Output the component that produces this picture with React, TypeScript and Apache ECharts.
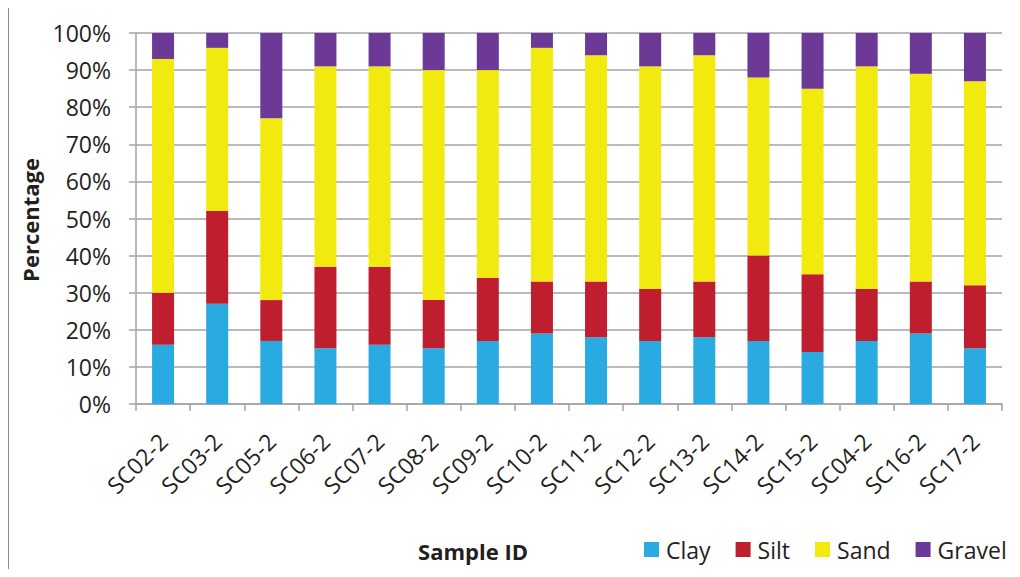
import React, { useEffect, useRef } from "react";
import * as echarts from "echarts";

const categories = [
  "SC02-2", "SC03-2", "SC05-2", "SC06-2", "SC07-2", "SC08-2", "SC09-2", "SC10-2",
  "SC11-2", "SC12-2", "SC13-2", "SC14-2", "SC15-2", "SC04-2", "SC16-2", "SC17-2",
];
const clay = [16, 27, 17, 15, 16, 15, 17, 19, 18, 17, 18, 17, 14, 17, 19, 15];
const silt = [14, 25, 11, 22, 21, 13, 17, 14, 15, 14, 15, 23, 21, 14, 14, 17];
const sand = [63, 44, 49, 54, 54, 62, 56, 63, 61, 60, 61, 48, 50, 60, 56, 55];
const gravel = [7, 4, 23, 9, 9, 10, 10, 4, 6, 9, 6, 12, 15, 9, 11, 13];

const seriesNames = ["Clay", "Silt", "Sand", "Gravel"];
const seriesData = [clay, silt, sand, gravel];
const colors = ["#29ABE2", "#BE1E2D", "#F2EA0F", "#6C3A96"];

const FONT = "'Open Sans', sans-serif";
const TEXT = "#231f20";
const GRID = "#a3a3a6";

export default function App() {
  const ref = useRef<HTMLDivElement>(null);
  useEffect(() => {
    if (!ref.current) return;
    const chart = echarts.init(ref.current, null, { renderer: "svg" });
    chart.setOption({
      animation: false,
      backgroundColor: "#ffffff",
      textStyle: { fontFamily: FONT },
      grid: { left: 136, right: 18, top: 33, bottom: 173, containLabel: false },
      legend: {
        left: 644,
        top: 538,
        padding: 0,
        itemWidth: 15,
        itemHeight: 15,
        itemGap: 25,
        icon: "rect",
        textStyle: { fontFamily: FONT, fontSize: 23, color: TEXT, padding: [0, 0, 0, 2] },
        data: seriesNames,
      },
      xAxis: {
        type: "category",
        data: categories,
        axisLine: { lineStyle: { color: GRID, width: 1.5 } },
        axisTick: { show: true, length: 7, lineStyle: { color: GRID, width: 1.5 } },
        axisLabel: {
          rotate: 45,
          margin: 33,
          align: "right",
          verticalAlign: "middle",
          padding: [18, 0, 0, 0],
          fontFamily: FONT,
          fontSize: 23,
          color: TEXT,
          interval: 0,
        },
      },
      yAxis: {
        type: "value",
        min: 0,
        max: 100,
        interval: 10,
        axisLine: { show: true, lineStyle: { color: GRID, width: 1.5 } },
        axisTick: { show: true, length: 7, lineStyle: { color: GRID, width: 1.5 } },
        splitLine: { show: true, lineStyle: { color: GRID, width: 1.5 } },
        axisLabel: {
          formatter: "{value}%",
          margin: 25,
          fontFamily: FONT,
          fontSize: 23,
          color: TEXT,
        },
      },
      graphic: [
        {
          type: "rect",
          left: 6,
          top: 4,
          shape: { width: 1011, height: 600 },
          style: { fill: "none", stroke: "#8c8c8c", lineWidth: 1 },
          silent: true,
        },
        {
          type: "text",
          x: 30,
          y: 220,
          rotation: Math.PI / 2,
          style: {
            text: "Percentage",
            fontFamily: FONT,
            fontSize: 22,
            fontWeight: "bold",
            fill: TEXT,
            align: "center",
            verticalAlign: "middle",
          },
        },
        {
          type: "text",
          x: 473,
          y: 551,
          style: {
            text: "Sample ID",
            fontFamily: FONT,
            fontSize: 22,
            fontWeight: "bold",
            fill: TEXT,
            align: "center",
            verticalAlign: "middle",
          },
        },
      ],
      series: seriesNames.map((name, i) => ({
        name,
        type: "bar",
        stack: "total",
        barWidth: 22,
        data: seriesData[i],
        itemStyle: { color: colors[i] },
      })),
    });
    return () => chart.dispose();
  }, []);
  return <div ref={ref} style={{ width: 1020, height: 577, margin: -8 }} />;
}
